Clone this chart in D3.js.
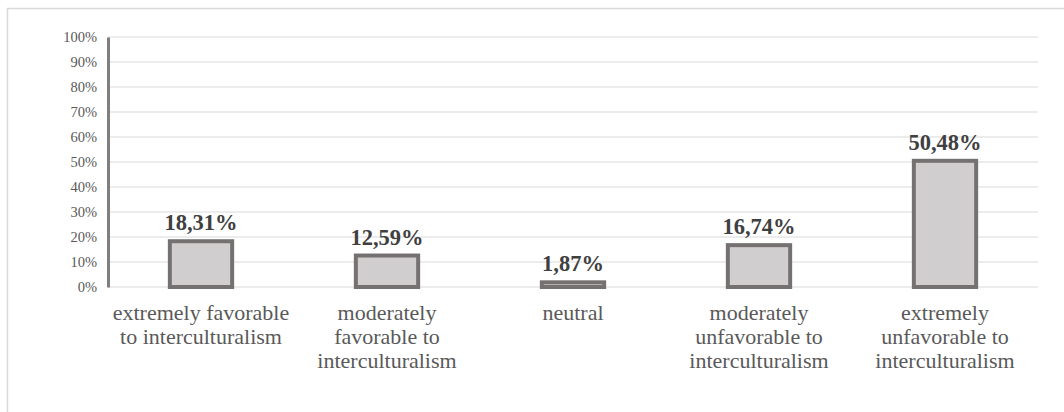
<!DOCTYPE html>
<html>
<head>
<meta charset="utf-8">
<script src="https://cdn.jsdelivr.net/npm/d3@7"></script>
<style>
  body { margin: 0; background: #fff; }
  svg text { font-family: "Liberation Serif", "Times New Roman", serif !important; }
</style>
</head>
<body>
<div class="chart"></div>
<script>
const categories = [
  ["extremely favorable", "to interculturalism"],
  ["moderately", "favorable to", "interculturalism"],
  ["neutral"],
  ["moderately", "unfavorable to", "interculturalism"],
  ["extremely", "unfavorable to", "interculturalism"]
];
const values = [18.31, 12.59, 1.87, 16.74, 50.48];
const valueLabels = ["18,31%", "12,59%", "1,87%", "16,74%", "50,48%"];
const yTicks = [0, 10, 20, 30, 40, 50, 60, 70, 80, 90, 100];

const width = 1064, height = 412;
const margin = { top: 37, right: 26, bottom: 125, left: 108 };
const serif = "Liberation Serif, serif";

const svg = d3.select(".chart").append("svg")
  .attr("width", width)
  .attr("height", height);

// outer frame (chart area border)
svg.append("rect")
  .attr("x", 7.5).attr("y", 8.5)
  .attr("width", width + 20).attr("height", height + 20)
  .attr("fill", "none")
  .attr("stroke", "#d9d9d9")
  .attr("stroke-width", 1.5);

const x = d3.scaleBand()
  .domain(d3.range(categories.length))
  .range([margin.left, width - margin.right])
  .paddingInner(0.665)
  .paddingOuter(0.3325);

const y = d3.scaleLinear()
  .domain([0, 100])
  .range([height - margin.bottom, margin.top]);

// gridlines
svg.append("g")
  .selectAll("line")
  .data(yTicks)
  .enter().append("line")
  .attr("x1", margin.left)
  .attr("x2", width - margin.right)
  .attr("y1", d => y(d))
  .attr("y2", d => y(d))
  .attr("stroke", "#d9d9d9")
  .attr("stroke-width", 1.2);

// y axis
const yAxis = svg.append("g")
  .attr("transform", `translate(${margin.left},0)`)
  .call(d3.axisLeft(y).tickValues(yTicks).tickSize(0).tickPadding(11).tickFormat(d => d + "%"));
yAxis.attr("font-family", serif);
yAxis.select(".domain").attr("stroke", "#7f7f7f").attr("stroke-width", 3);
yAxis.selectAll("text")
  .attr("font-size", 14.5)
  .attr("fill", "#595959");

// bars
svg.append("g")
  .selectAll("rect")
  .data(values)
  .enter().append("rect")
  .attr("x", (d, i) => x(i))
  .attr("y", d => y(d))
  .attr("width", x.bandwidth())
  .attr("height", d => y(0) - y(d))
  .attr("fill", "#d0cecf")
  .attr("stroke", "#757171")
  .attr("stroke-width", 4);

// value labels
svg.append("g")
  .selectAll("text")
  .data(values)
  .enter().append("text")
  .attr("x", (d, i) => x(i) + x.bandwidth() / 2)
  .attr("y", d => y(d) - 11)
  .attr("text-anchor", "middle")
  .attr("font-family", serif)
  .attr("font-size", 22.5)
  .attr("font-weight", "bold")
  .attr("fill", "#404040")
  .text((d, i) => valueLabels[i]);

// category labels
const cat = svg.append("g")
  .selectAll("text")
  .data(categories)
  .enter().append("text")
  .attr("x", (d, i) => x(i) + x.bandwidth() / 2)
  .attr("y", y(0) + 33)
  .attr("text-anchor", "middle")
  .attr("font-family", serif)
  .attr("font-size", 22)
  .attr("fill", "#595959");
cat.selectAll("tspan")
  .data((d, i) => d.map(t => ({ t, i })))
  .enter().append("tspan")
  .attr("x", d => x(d.i) + x.bandwidth() / 2)
  .attr("dy", (d, j) => j === 0 ? 0 : 24)
  .text(d => d.t);
</script>
</body>
</html>
